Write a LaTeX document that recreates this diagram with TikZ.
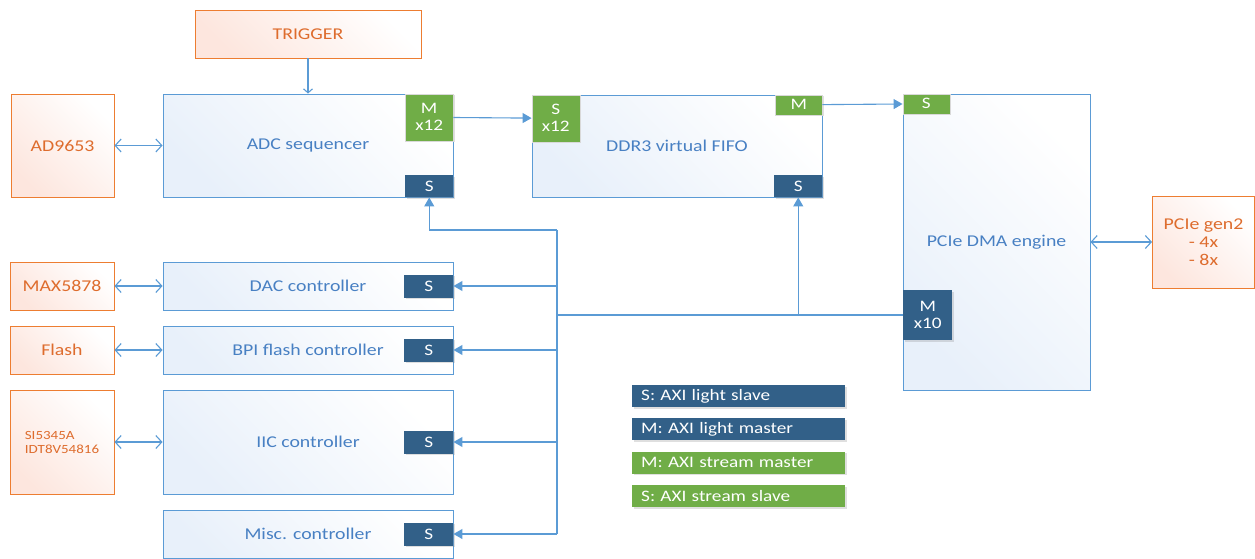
\documentclass[tikz,border=0pt]{standalone}
\usepackage{fontspec}
\setmainfont{Carlito}[FakeStretch=1.2]
\usetikzlibrary{arrows.meta,positioning,shadows}

\definecolor{axiblue}{RGB}{50,96,136}
\definecolor{axigreen}{RGB}{112,173,71}
\definecolor{blkline}{RGB}{91,155,213}
\definecolor{blktext}{RGB}{72,128,195}
\definecolor{blkfill}{RGB}{232,240,250}
\definecolor{extline}{RGB}{237,125,49}
\definecolor{exttext}{RGB}{222,108,45}
\definecolor{extfill}{RGB}{253,230,222}

\tikzset{
  blk/.style={draw=blkline, line width=0.9pt, top color=blkfill, bottom color=white,
    shading angle=135, text=blktext, font=\fontsize{16.5}{18}\selectfont, inner sep=0pt},
  ext/.style={draw=extline, line width=0.9pt, top color=extfill, bottom color=white,
    shading angle=135, text=exttext, font=\fontsize{16.5}{18}\selectfont, inner sep=0pt, align=center},
  port/.style={text=white, inner sep=0pt, align=center, font=\fontsize{16}{17}\selectfont,
    drop shadow={shadow xshift=1.5pt, shadow yshift=-1.5pt, opacity=0.25}},
  lite/.style={port, fill=axiblue},
  strm/.style={port, fill=axigreen, draw=black!15, line width=0.5pt},
  legend/.style={port, anchor=west, text width=195pt, inner xsep=9pt, minimum height=22pt, align=left},
  link/.style={draw=blkline, line width=1.1pt},
  bus/.style={link, -{Triangle[length=9pt,width=10pt]}},
  both/.style={link, {Straight Barb[length=6pt,width=13pt]}-{Straight Barb[length=6pt,width=13pt]}},
}

\begin{document}
\begin{tikzpicture}[x=1pt,y=-1pt]
  \useasboundingbox (0,0) rectangle (1255,558);

  % outside parts
  \node[ext, minimum width=226pt, minimum height=48pt]  (trig)  at (308,34)    {TRIGGER};
  \node[ext, minimum width=103pt, minimum height=103pt] (ad)    at (62.5,145.5) {AD9653};
  \node[ext, minimum width=104pt, minimum height=48pt]  (max)   at (62,286)    {MAX5878};
  \node[ext, minimum width=104pt, minimum height=48pt]  (flash) at (62,350)    {Flash};
  \node[ext, minimum width=104pt, minimum height=104pt, align=left,
        font=\fontsize{12.5}{14}\selectfont]            (si)    at (62,442)    {SI5345A\\IDT8V54816};
  \node[ext, minimum width=102pt, minimum height=92pt]  (gen2)  at (1203.5,242) {PCIe gen2\\- 4x\\- 8x};

  % FPGA blocks
  \node[blk, minimum width=290pt, minimum height=103pt] (adc)   at (308,145.5) {ADC sequencer};
  \node[blk, minimum width=290pt, minimum height=102pt] (ddr)   at (677,146)   {DDR3 virtual FIFO};
  \node[blk, minimum width=187pt, minimum height=296pt] (dma)   at (996.5,242) {PCIe DMA engine};
  \node[blk, minimum width=290pt, minimum height=48pt]  (dac)   at (308,286)   {DAC controller};
  \node[blk, minimum width=290pt, minimum height=48pt]  (bpi)   at (308,350)   {BPI flash controller};
  \node[blk, minimum width=290pt, minimum height=104pt] (iic)   at (308,442)   {IIC controller};
  \node[blk, minimum width=290pt, minimum height=48pt]  (misc)  at (308,534)   {Misc. controller};

  % ports
  \node[strm, minimum width=48pt, minimum height=47pt, anchor=north east] (adcm)  at (adc.north east) {M\\x12};
  \node[lite, minimum width=48pt, minimum height=22pt, anchor=south east] (adcs)  at (adc.south east) {S};
  \node[strm, minimum width=48pt, minimum height=47pt, anchor=north west] (ddrsi) at (ddr.north west) {S\\x12};
  \node[strm, minimum width=47pt, minimum height=20pt, anchor=north east] (ddrm)  at (ddr.north east) {M};
  \node[lite, minimum width=48pt, minimum height=22pt, anchor=south east] (ddrs)  at (ddr.south east) {S};
  \node[strm, minimum width=47pt, minimum height=20pt, anchor=north west] (dmas)  at (dma.north west) {S};
  \node[lite, minimum width=49pt, minimum height=50pt, anchor=west]       (dmam)  at (903,315)       {M\\x10};
  \node[lite, minimum width=49pt, minimum height=23pt, anchor=east]       (dacs)  at (dac.east)      {S};
  \node[lite, minimum width=49pt, minimum height=23pt, anchor=east]       (bpis)  at (bpi.east)      {S};
  \node[lite, minimum width=49pt, minimum height=23pt, anchor=east]       (iics)  at (iic.east)      {S};
  \node[lite, minimum width=49pt, minimum height=23pt, anchor=east]       (miscs) at (misc.east)     {S};

  % legend
  \node[legend, fill=axiblue]                (lg1) at (632,396) {S: AXI light slave};
  \node[legend, fill=axiblue, below=11pt of lg1.south west, anchor=north west]  (lg2) {M: AXI light master};
  \node[legend, fill=axigreen, below=11pt of lg2.south west, anchor=north west] (lg3) {M: AXI stream master};
  \node[legend, fill=axigreen, below=11pt of lg3.south west, anchor=north west] (lg4) {S: AXI stream slave};

  % data path
  \draw[link, -{Straight Barb[length=4pt,width=9pt]}] (trig) -- (adc);
  \draw[bus] (adcm) -- (ddrsi);
  \draw[bus] (ddrm) -- (dmas);
  \draw[both] (ad) -- (adc);
  \draw[both] (max) -- (dac);
  \draw[both] (flash) -- (bpi);
  \draw[both] (si) -- (iic);
  \draw[both] (dma) -- (gen2);

  % AXI light bus
  \coordinate (bj) at (557,230);
  \coordinate (bm) at (557,315);
  \draw[bus] (bj) -| (adcs);
  \draw[link] (bj) -- (bj |- miscs);
  \draw[link] (dmam) -- (bm);
  \draw[bus] (ddrs |- bm) -- (ddrs);
  \foreach \p in {dacs,bpis,iics,miscs}
    \draw[bus] (bj |- \p) -- (\p);
\end{tikzpicture}
\end{document}
